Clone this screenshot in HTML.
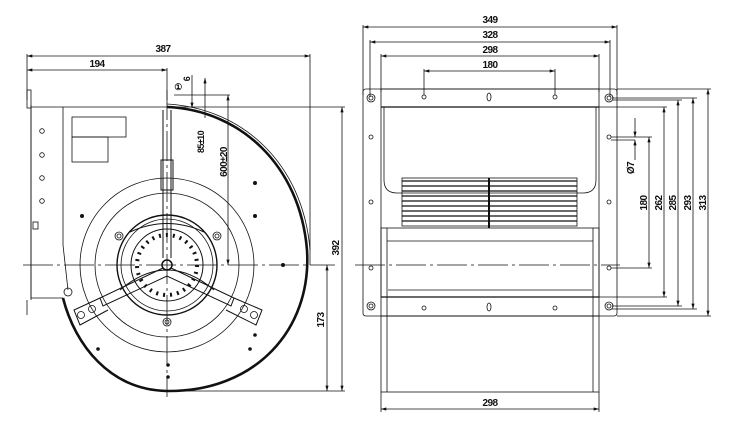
<!DOCTYPE html>
<html><head><meta charset="utf-8"><style>
html,body{margin:0;padding:0;background:#fff;width:736px;height:434px;overflow:hidden}
svg{display:block}
text{font-family:"Liberation Sans",sans-serif;font-weight:bold;font-size:10px;fill:#111;letter-spacing:-0.6px}
</style></head><body>
<svg width="736" height="434" viewBox="0 0 736 434" xmlns="http://www.w3.org/2000/svg">
<defs>
<marker id="a" viewBox="0 0 10 6" refX="10" refY="3" markerWidth="8" markerHeight="4" orient="auto-start-reverse"><path d="M0,0L10,3L0,6z" fill="#111"/></marker>
</defs>
<g stroke="#111" fill="none" stroke-width="0.8">
<line x1="27" y1="56" x2="310" y2="56" marker-start="url(#a)" marker-end="url(#a)"/>
<line x1="27" y1="70" x2="167" y2="70" marker-start="url(#a)" marker-end="url(#a)"/>
<line x1="27" y1="54" x2="27" y2="100"/>
<line x1="310" y1="54" x2="310" y2="265"/>
<line x1="167" y1="68" x2="167" y2="100"/>
<line x1="174" y1="95" x2="230" y2="95"/>
<line x1="228" y1="95" x2="228" y2="265" marker-start="url(#a)" marker-end="url(#a)"/>
<line x1="192" y1="75" x2="192" y2="108" marker-end="url(#a)"/>
<line x1="205" y1="78" x2="205" y2="118" marker-start="url(#a)"/>
<line x1="167" y1="107" x2="345" y2="107"/>
<line x1="342" y1="107" x2="342" y2="391" marker-start="url(#a)" marker-end="url(#a)"/>
<line x1="327" y1="265" x2="327" y2="391" marker-start="url(#a)" marker-end="url(#a)"/>
<line x1="167" y1="391" x2="345" y2="391"/>
<line x1="23" y1="265" x2="335" y2="265" stroke-dasharray="30,4,3,4"/>
<line x1="167" y1="90" x2="167" y2="397" stroke-dasharray="30,4,3,4"/>
<rect x="27" y="90" width="4" height="18"/>
<path d="M31,107 H167 M31,105 V300 M63,107 V245 L68,290"/>
<path d="M31,107 V298 H63"/>
<rect x="72" y="117" width="54" height="20"/>
<rect x="72" y="137" width="36" height="25"/>
<circle cx="42" cy="131" r="2.3"/><circle cx="42" cy="155" r="2.3"/><circle cx="42" cy="178" r="2.3"/><circle cx="42" cy="201" r="2.3"/>
<rect x="33" y="222" width="5" height="7"/>
<line x1="27" y1="300" x2="27" y2="315"/>
<path d="M167,107 C240,110 300,165 307,250 C312,330 255,392 167,391 C110,390 75,345 63,298" stroke-width="2.6"/>
<path d="M167,104 C242,108 303,163 310,250" stroke-width="0.8"/>
<circle cx="68" cy="292" r="4"/>
<circle cx="167" cy="265" r="87"/>
<circle cx="167" cy="265" r="72"/>
<circle cx="167" cy="265" r="50" stroke-width="1.4"/>
<circle cx="167" cy="265" r="46"/>
<circle cx="167" cy="265" r="30" stroke-width="4" stroke-dasharray="2,5"/>
<circle cx="167" cy="265" r="36" stroke-width="1"/>
<circle cx="167" cy="265" r="5" stroke-width="1.5"/>
<circle cx="119" cy="236" r="4"/><circle cx="119" cy="236" r="2"/>
<circle cx="217" cy="236" r="4"/><circle cx="217" cy="236" r="2"/>
<circle cx="167" cy="322" r="4"/><circle cx="167" cy="322" r="2"/>
<path d="M163,110 V258 M171,110 V258" stroke-width="1"/>
<rect x="161" y="160" width="12" height="30" stroke-width="1"/>
<path d="M163,268 L100,298 L103,306 L167,276 L231,306 L234,298 L171,268" stroke-width="1"/>
<path d="M100,298 L74,310 L80,325 L108,310" stroke-width="1"/>
<path d="M234,298 L262,310 L256,325 L226,310" stroke-width="1"/>
<circle cx="81" cy="315" r="3.5"/><circle cx="92" cy="309" r="3.5"/>
<circle cx="244" cy="309" r="3.5"/><circle cx="254" cy="315" r="3.5"/>
<path d="M130,232 Q167,215 204,232 M120,290 Q167,250 214,290" stroke-width="1"/>
</g>
<g fill="#111">
<circle cx="255" cy="183" r="2"/><circle cx="255" cy="216" r="2"/><circle cx="82" cy="216" r="2"/>
<circle cx="283" cy="265" r="2"/><circle cx="255" cy="335" r="1.8"/><circle cx="250" cy="349" r="1.8"/>
<circle cx="98" cy="349" r="1.8"/><circle cx="168" cy="365" r="1.8"/><circle cx="168" cy="377" r="1.8"/>
</g>
<text x="163" y="52" text-anchor="middle">387</text>
<text x="97" y="67" text-anchor="middle">194</text>
<text x="178" y="90" text-anchor="middle" style="font-size:9px">①</text>
<text transform="translate(190,79) rotate(-90)" text-anchor="middle" style="font-size:9px">6</text>
<text transform="translate(204,142) rotate(-90)" text-anchor="middle" style="font-size:9px">85±10</text>
<text transform="translate(227,162) rotate(-90)" text-anchor="middle">600±20</text>
<text transform="translate(339,248) rotate(-90)" text-anchor="middle">392</text>
<text transform="translate(324,320) rotate(-90)" text-anchor="middle">173</text>

<g stroke="#111" fill="none" stroke-width="0.8">
<line x1="363" y1="27" x2="617" y2="27" marker-start="url(#a)" marker-end="url(#a)"/>
<line x1="370" y1="42" x2="610" y2="42" marker-start="url(#a)" marker-end="url(#a)"/>
<line x1="381" y1="56" x2="599" y2="56" marker-start="url(#a)" marker-end="url(#a)"/>
<line x1="424" y1="71" x2="555" y2="71" marker-start="url(#a)" marker-end="url(#a)"/>
<line x1="363" y1="25" x2="363" y2="95"/><line x1="617" y1="25" x2="617" y2="95"/>
<line x1="370" y1="40" x2="370" y2="97"/><line x1="610" y1="40" x2="610" y2="97"/>
<line x1="381" y1="54" x2="381" y2="92"/><line x1="599" y1="54" x2="599" y2="92"/>
<line x1="424" y1="69" x2="424" y2="95"/><line x1="555" y1="69" x2="555" y2="95"/>
<path d="M366,89 H614 Q617,89 617,92 V313 Q617,316 614,316 H366 Q363,316 363,313 V92 Q363,89 366,89 Z"/>
<rect x="381" y="89" width="218" height="227"/>
<line x1="381" y1="107" x2="599" y2="107" stroke-width="1.3"/>
<line x1="381" y1="297" x2="599" y2="297" stroke-width="1.3"/>
<path d="M384,107 V180 Q384,193 397,193 H583 Q596,193 596,180 V107"/>
<rect x="381" y="228" width="218" height="69"/>
<line x1="387" y1="241" x2="593" y2="241"/>
<line x1="388" y1="290" x2="592" y2="290"/>
<line x1="387" y1="228" x2="387" y2="392"/><line x1="593" y1="228" x2="593" y2="392"/>
<rect x="381" y="316" width="218" height="76"/>
<line x1="381" y1="392" x2="381" y2="412"/><line x1="599" y1="392" x2="599" y2="412"/>
<line x1="381" y1="409" x2="599" y2="409" marker-start="url(#a)" marker-end="url(#a)"/>
<rect x="402" y="178" width="175" height="48"/>
<g stroke-width="1.3">
<line x1="402" y1="181" x2="577" y2="181"/><line x1="402" y1="186" x2="577" y2="186"/>
<line x1="402" y1="191" x2="577" y2="191"/><line x1="402" y1="196" x2="577" y2="196"/>
<line x1="402" y1="201" x2="577" y2="201"/><line x1="402" y1="206" x2="577" y2="206"/>
<line x1="402" y1="211" x2="577" y2="211"/><line x1="402" y1="216" x2="577" y2="216"/>
<line x1="402" y1="221" x2="577" y2="221"/>
</g>
<line x1="489" y1="178" x2="489" y2="228" stroke-width="2"/>
<line x1="355" y1="265" x2="620" y2="265" stroke-dasharray="30,4,3,4"/>
<circle cx="424" cy="97" r="2"/><circle cx="555" cy="97" r="2"/>
<ellipse cx="489" cy="97" rx="2" ry="4"/>
<circle cx="424" cy="308" r="2"/><circle cx="555" cy="308" r="2"/>
<ellipse cx="489" cy="307" rx="2" ry="4"/>
<circle cx="371" cy="98" r="4"/><circle cx="371" cy="98" r="2"/>
<circle cx="609" cy="98" r="4"/><circle cx="609" cy="98" r="2"/>
<circle cx="371" cy="306" r="4"/><circle cx="371" cy="306" r="2"/>
<circle cx="609" cy="306" r="4"/><circle cx="609" cy="306" r="2"/>
<circle cx="371" cy="137" r="2"/><circle cx="371" cy="202" r="2"/><circle cx="371" cy="268" r="2"/>
<circle cx="609" cy="137" r="2"/><circle cx="609" cy="202" r="2"/><circle cx="609" cy="268" r="2"/>
<line x1="617" y1="89" x2="711" y2="89"/>
<line x1="612" y1="98" x2="697" y2="98"/>
<line x1="612" y1="100" x2="682" y2="100"/>
<line x1="599" y1="107" x2="667" y2="107"/>
<line x1="611" y1="137" x2="652" y2="137"/><line x1="611" y1="140" x2="635" y2="140"/>
<line x1="611" y1="268" x2="652" y2="268"/>
<line x1="599" y1="297" x2="667" y2="297"/>
<line x1="612" y1="306" x2="682" y2="306"/>
<line x1="612" y1="309" x2="697" y2="309"/>
<line x1="617" y1="316" x2="711" y2="316"/>
<line x1="649" y1="137" x2="649" y2="268" marker-start="url(#a)" marker-end="url(#a)"/>
<line x1="664" y1="107" x2="664" y2="297" marker-start="url(#a)" marker-end="url(#a)"/>
<line x1="678" y1="100" x2="678" y2="306" marker-start="url(#a)" marker-end="url(#a)"/>
<line x1="693" y1="98" x2="693" y2="309" marker-start="url(#a)" marker-end="url(#a)"/>
<line x1="708" y1="89" x2="708" y2="316" marker-start="url(#a)" marker-end="url(#a)"/>
<line x1="635" y1="118" x2="635" y2="137" marker-end="url(#a)"/>
<line x1="635" y1="160" x2="635" y2="140" marker-end="url(#a)"/>
</g>
<text x="490" y="23" text-anchor="middle">349</text>
<text x="490" y="38" text-anchor="middle">328</text>
<text x="490" y="53" text-anchor="middle">298</text>
<text x="490" y="68" text-anchor="middle">180</text>
<text x="490" y="406" text-anchor="middle">298</text>
<text transform="translate(634,168) rotate(-90)" text-anchor="middle">Ø7</text>
<text transform="translate(647,203) rotate(-90)" text-anchor="middle">180</text>
<text transform="translate(662,203) rotate(-90)" text-anchor="middle">262</text>
<text transform="translate(676,203) rotate(-90)" text-anchor="middle">285</text>
<text transform="translate(691,203) rotate(-90)" text-anchor="middle">293</text>
<text transform="translate(706,203) rotate(-90)" text-anchor="middle">313</text>
</svg>
</body></html>
